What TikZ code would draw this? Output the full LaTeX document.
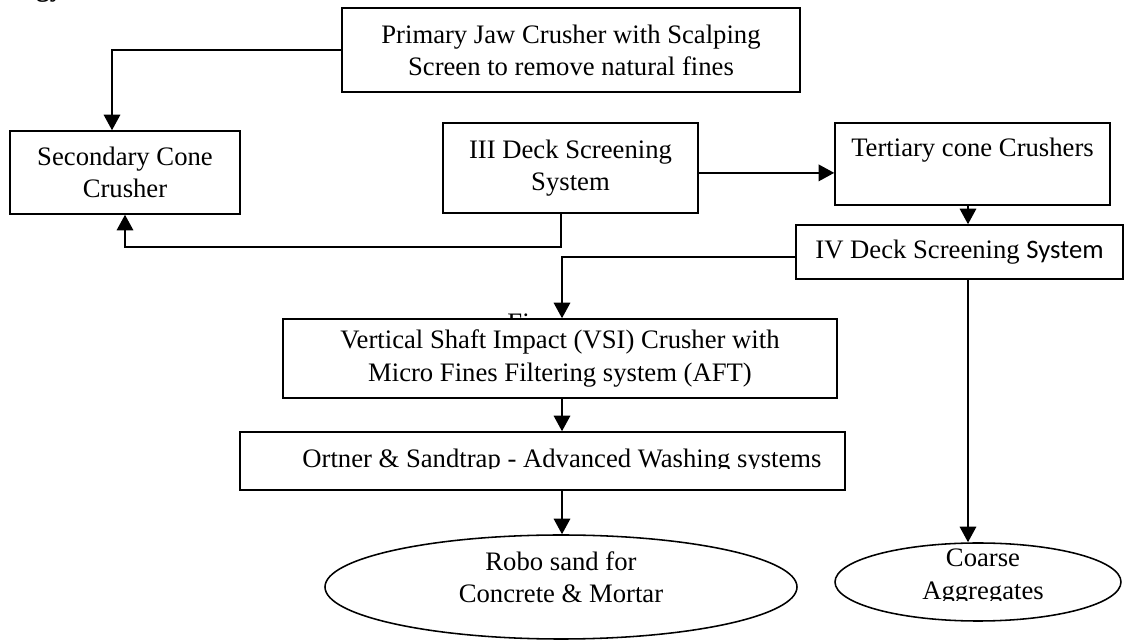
\documentclass[tikz,border=0pt]{standalone}
\usepackage{fontspec}
\setmainfont{Liberation Serif}
\newfontfamily\calibrifont{Carlito}
\usetikzlibrary{arrows.meta}
\usetikzlibrary{shapes.geometric}

\begin{document}
\begin{tikzpicture}[x=0.45pt, y=-0.45pt,
    every node/.style={font=\fontsize{12}{14.5}\selectfont, align=center},
    box/.style={draw, line width=0.7pt, fill=white, inner sep=0pt},
    oval/.style={ellipse, draw, line width=0.7pt, inner sep=0pt},
    flow/.style={line width=0.85pt, -{Triangle[length=7pt, width=7.4pt]}}]
\useasboundingbox (0,0) rectangle (1125,640);

% Heading fragment
\node[anchor=base west, inner sep=0pt, font=\bfseries\fontsize{12}{14.5}\selectfont] (head) at (36,-3) {gy};

% Crushers and screens
\node[box, minimum width=206.1pt, minimum height=37.8pt] (prim) at (571,50) {Primary Jaw Crusher with Scalping\\Screen to remove natural fines};
\node[box, minimum width=103.5pt, minimum height=37.35pt] (sec) at (125,172.5) {Secondary Cone\\Crusher};
\node[box, minimum width=114.75pt, minimum height=40.5pt] (iii) at (570.5,168) {III Deck Screening\\System};
\node[box, minimum width=123.75pt, minimum height=36.9pt, text depth=15pt] (ter) at (972.5,164) {Tertiary cone Crushers};
\node[box, minimum width=147.15pt, minimum height=24.3pt] (iv) at (959.5,252) {IV Deck Screening {\calibrifont System}};

% Fines stage
\node[anchor=base west, inner sep=0pt] (fi) at (507,332) {Fi};
\node[box, minimum width=249.3pt, minimum height=35.55pt] (vsi) at (560,358.5) {Vertical Shaft Impact (VSI) Crusher with\\Micro Fines Filtering system (AFT)};
\node[box, minimum width=272.25pt, minimum height=26.1pt] (ort) at (542.5,461) {};
\begin{scope}
  \clip (240,432) rectangle (845,469);
  \node (orttext) at (562,461) {Ortner \& Sandtrap - Advanced Washing systems};
\end{scope}

% Products
\node[oval, minimum width=212.4pt, minimum height=46.8pt] (robo) at (561,587) {};
\node (robotext) at (561,577) {Robo sand for\\Concrete \& Mortar};
\node[oval, minimum width=128.7pt, minimum height=35.1pt] (coarse) at (978,582) {};
\begin{scope}
  \clip (835,543) rectangle (1121,601);
  \node (coarsetext) at (983,577) {Coarse\\Aggregates};
\end{scope}

% Connections
\coordinate (bend) at (112,50);
\coordinate (back) at (561,247);
\coordinate (mid) at (562,0);
\coordinate (right) at (968,0);
\path ([yshift=-2.2pt]iii.east) coordinate (feed);

\draw[flow] (prim.west) -- (bend) -- (bend |- sec.north);
\draw[flow] (feed) -- (feed -| ter.west);
\draw[flow] (ter.south -| right) -- (iv.north -| right);
\draw[flow] (iii.south -| back) -- (back) -| (sec.south);
\draw[flow] ([yshift=-2.4pt]iv.west) -| (vsi.north -| mid);
\draw[flow] (vsi.south -| mid) -- (ort.north -| mid);
\draw[flow] (ort.south -| mid) -- (robo.north -| mid);
\draw[flow] (iv.south -| right) -- (coarse.north -| right);

\end{tikzpicture}
\end{document}
